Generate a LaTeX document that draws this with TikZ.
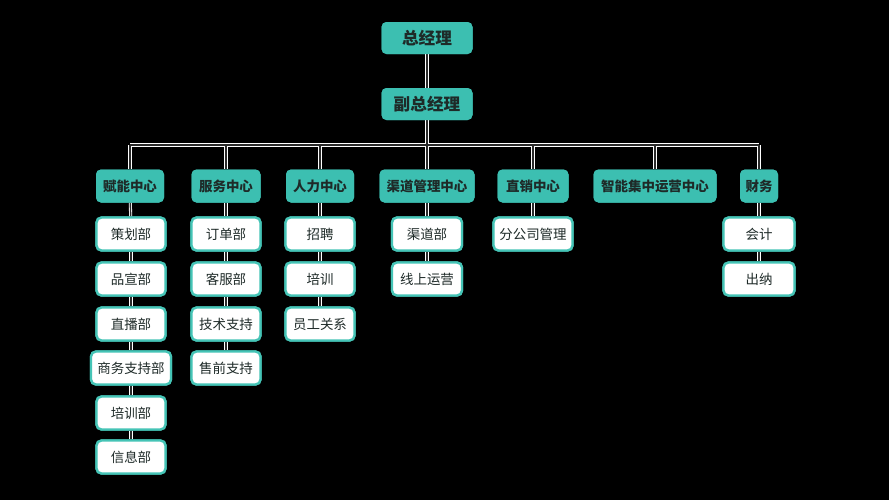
\documentclass[tikz,border=0pt]{standalone}
\usepackage{fontspec}
\setmainfont{Noto Sans CJK SC}
\definecolor{teal1}{HTML}{3CBFB1}
\definecolor{tealb}{HTML}{45C4B6}
\definecolor{txt}{HTML}{1E2A28}
\definecolor{ln}{HTML}{2A2A2A}
\begin{document}
\begin{tikzpicture}[x=0.03cm,y=-0.03cm,
  base/.style={rounded corners=0.15cm, inner sep=0pt, minimum height=0.99cm, font=\fontsize{11.5}{12}\selectfont, text=txt},
  head/.style={base, fill=teal1, font=\fontsize{11.5}{12}\selectfont\bfseries},
  top/.style={head, minimum height=0.96cm, minimum width=91*0.03cm, font=\fontsize{14.2}{15}\selectfont\bfseries},
  sub/.style={base, fill=white, draw=tealb, line width=2pt},
  w/.style={minimum width=#1*0.03cm},
  halo/.style={white, line width=2.6pt},
  core/.style={ln, line width=1.2pt}
]
\fill[black] (0,0) rectangle (889,500);
\useasboundingbox (0,0) rectangle (889,500);

\node[top] (gm) at (427,38) {总经理};
\node[top] (vgm) at (427,104) {副总经理};

\node[head,w=68] (c1) at (130,186) {赋能中心};
\node[head,w=69] (c2) at (226,186) {服务中心};
\node[head,w=68] (c3) at (320,186) {人力中心};
\node[head,w=95] (c4) at (427,186) {渠道管理中心};
\node[head,w=71] (c5) at (533,186) {直销中心};
\node[head,w=123] (c6) at (655,186) {智能集中运营中心};
\node[head,w=38] (c7) at (759,186) {财务};

\coordinate (busL) at (130,145);
\coordinate (busR) at (759,145);
\coordinate (busM) at (427,145);

% column 1
\node[sub,w=69] (a1) at (131,234) {策划部};
\node[sub,w=69] (a2) at (131,279) {品宣部};
\node[sub,w=69] (a3) at (131,324) {直播部};
\node[sub,w=80] (a4) at (131,368) {商务支持部};
\node[sub,w=69] (a5) at (131,413) {培训部};
\node[sub,w=69] (a6) at (131,457) {信息部};
% column 2
\node[sub,w=69] (b1) at (226,234) {订单部};
\node[sub,w=69] (b2) at (226,279) {客服部};
\node[sub,w=69] (b3) at (226,324) {技术支持};
\node[sub,w=69] (b4) at (226,368) {售前支持};
% column 3
\node[sub,w=69] (d1) at (320,234) {招聘};
\node[sub,w=69] (d2) at (320,279) {培训};
\node[sub,w=69] (d3) at (320,324) {员工关系};
% column 4
\node[sub,w=70] (e1) at (427,234) {渠道部};
\node[sub,w=70] (e2) at (427,279) {线上运营};
% column 5
\node[sub,w=79] (f1) at (533,234) {分公司管理};
% column 7
\node[sub,w=71] (g1) at (759,234) {会计};
\node[sub,w=71] (g2) at (759,279) {出纳};

\foreach \st in {halo,core}{
  \draw[\st] (gm) -- (vgm);
  \draw[\st] (vgm) -- (busM);
  \draw[\st] (busL) -- (busR);
  \foreach \c in {c1,c2,c3,c4,c5,c6,c7}{
    \draw[\st] (\c.north |- busL) -- (\c);
  }
  \draw[\st] (c1) -- (a1); \draw[\st] (a1) -- (a2); \draw[\st] (a2) -- (a3);
  \draw[\st] (a3) -- (a4); \draw[\st] (a4) -- (a5); \draw[\st] (a5) -- (a6);
  \draw[\st] (c2) -- (b1); \draw[\st] (b1) -- (b2); \draw[\st] (b2) -- (b3); \draw[\st] (b3) -- (b4);
  \draw[\st] (c3) -- (d1); \draw[\st] (d1) -- (d2); \draw[\st] (d2) -- (d3);
  \draw[\st] (c4) -- (e1); \draw[\st] (e1) -- (e2);
  \draw[\st] (c5) -- (f1);
  \draw[\st] (c7) -- (g1); \draw[\st] (g1) -- (g2);
}

% redraw nodes on top of connectors
\node[top] at (gm) {总经理};
\node[top] at (vgm) {副总经理};
\node[head,w=68] at (c1) {赋能中心};
\node[head,w=69] at (c2) {服务中心};
\node[head,w=68] at (c3) {人力中心};
\node[head,w=95] at (c4) {渠道管理中心};
\node[head,w=71] at (c5) {直销中心};
\node[head,w=123] at (c6) {智能集中运营中心};
\node[head,w=38] at (c7) {财务};
\node[sub,w=69] at (a1) {策划部};
\node[sub,w=69] at (a2) {品宣部};
\node[sub,w=69] at (a3) {直播部};
\node[sub,w=80] at (a4) {商务支持部};
\node[sub,w=69] at (a5) {培训部};
\node[sub,w=69] at (a6) {信息部};
\node[sub,w=69] at (b1) {订单部};
\node[sub,w=69] at (b2) {客服部};
\node[sub,w=69] at (b3) {技术支持};
\node[sub,w=69] at (b4) {售前支持};
\node[sub,w=69] at (d1) {招聘};
\node[sub,w=69] at (d2) {培训};
\node[sub,w=69] at (d3) {员工关系};
\node[sub,w=70] at (e1) {渠道部};
\node[sub,w=70] at (e2) {线上运营};
\node[sub,w=79] at (f1) {分公司管理};
\node[sub,w=71] at (g1) {会计};
\node[sub,w=71] at (g2) {出纳};
\end{tikzpicture}
\end{document}
